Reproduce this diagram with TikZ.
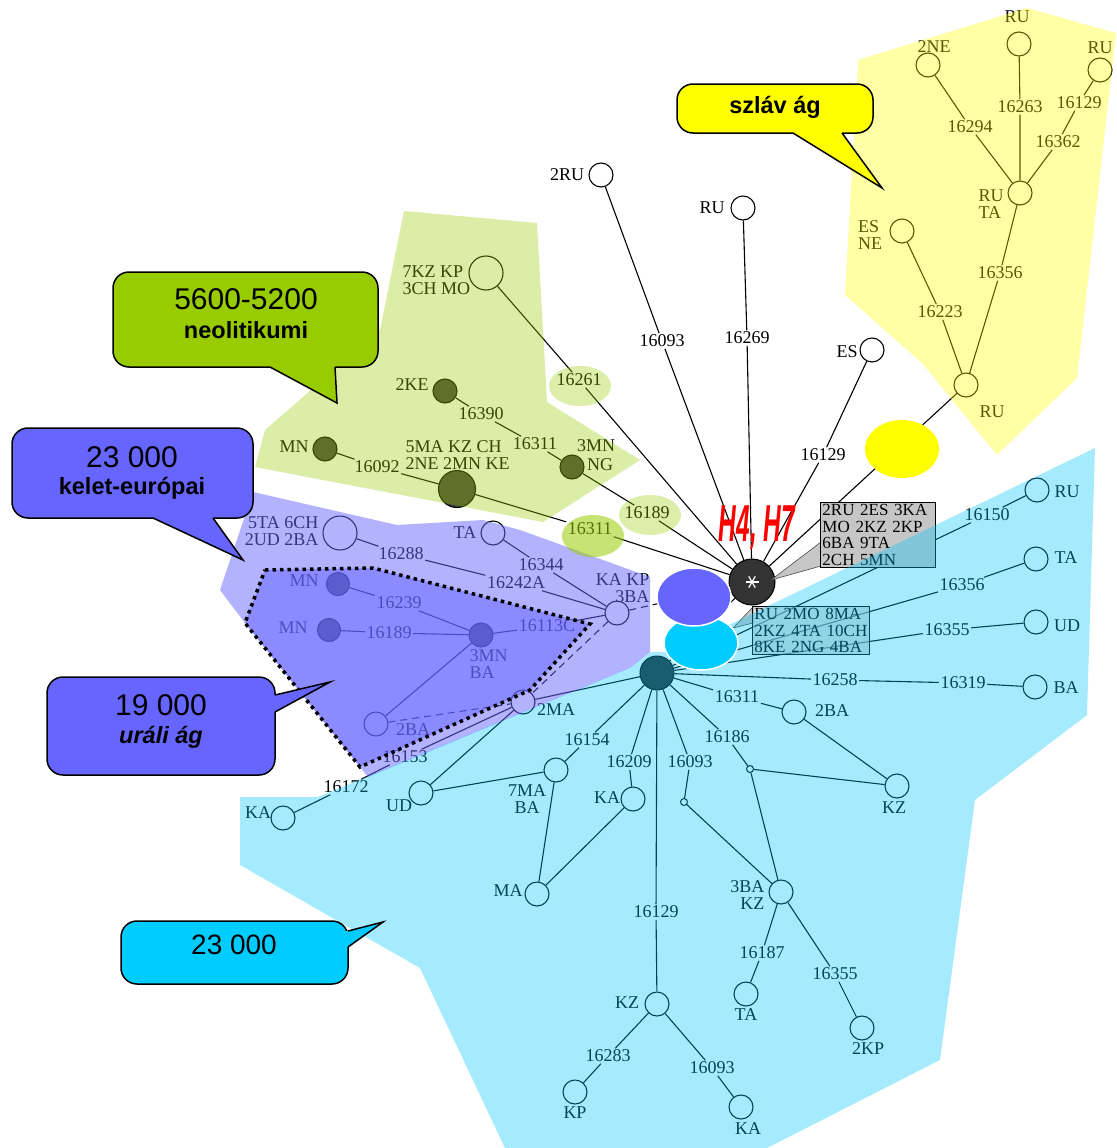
\documentclass[tikz,border=0pt]{standalone}
\usepackage{fontspec}
\setmainfont{Liberation Serif}
\newfontfamily\sansf{Liberation Sans}
\usetikzlibrary{calc}
\definecolor{cgreen}{HTML}{99CC00}
\definecolor{cblue}{HTML}{6666FF}
\definecolor{ccyan}{HTML}{00CCFF}
\definecolor{cyell}{HTML}{FFFF00}
\definecolor{ovcyan}{RGB}{0,200,251}
\definecolor{boxgray}{RGB}{198,198,198}
\newcommand\lblfont{\fontsize{18}{17}\selectfont}
\newcommand\boxfont{\fontsize{17}{16.5}\selectfont}
\tikzset{
 ln/.style={line width=1.1pt},
 dsh/.style={line width=1.1pt, dash pattern=on 7pt off 5pt},
 nd/.style={circle, draw, line width=1.1pt, minimum size=24pt, inner sep=0pt, fill=white},
 bignd/.style={nd, minimum size=34pt},
 dk/.style={nd, fill=black!75},
 smc/.style={circle, draw, line width=1pt, minimum size=7pt, inner sep=0pt, fill=white},
 lb/.style={font=\lblfont, inner sep=1.5pt},
 hubst/.style={circle, draw, line width=1pt, fill=black!80, minimum size=46pt, inner sep=0pt},
 cob/.style={draw=black, line width=1.5pt, rounded corners=16pt},
 cwl/.style={draw=black, line width=1.5pt, line join=miter},
 numf/.style={font=\sansf\fontsize{30}{30}\selectfont},
 wrdf/.style={font=\sansf\bfseries\fontsize{23.5}{24}\selectfont},
}
\begin{document}
\begin{tikzpicture}[x=1pt,y=-1pt]
\useasboundingbox (0,0) rectangle (1116,1148);
\fill[white] (0,0) rectangle (1116,1148);

% ---------- hubs
\node[hubst] (hub) at (752,582) {};
\foreach \a in {0,60,120}{\draw[white, line width=1.2pt] ($(hub)+(\a:6.5)$) -- ($(hub)+(\a+180:6.5)$);}
\node[circle, fill=black!85, draw, line width=1pt, minimum size=34pt, inner sep=0pt] (hub2) at (657,673) {};

% ---------- top (white area)
\node[nd] (c2RU) at (601,175) {};
\node[lb] (t2RU) at (567,175) {2RU};
\node[nd] (cRUa) at (743,208) {};
\node[lb] (tRUa) at (712,208) {RU};
\node[nd] (cES) at (872,350) {};
\node[lb] (tES) at (847,352) {ES};
\node[lb] (l16093a) at (662,341) {16093};
\node[lb] (l16269) at (747,338) {16269};
\node[lb] (l16129a) at (823,455) {16129};

% ---------- yellow branch
\node[nd] (cRUt) at (1019,44) {};
\node[lb] (tRUt) at (1017,17) {RU};
\node[nd] (c2NE) at (928,65) {};
\node[lb] (t2NE) at (934,47) {2NE};
\node[nd] (cRUr) at (1100,70) {};
\node[lb] (tRUr) at (1100,48) {RU};
\node[lb] (l16294) at (970,127) {16294};
\node[lb] (l16263) at (1020,107) {16263};
\node[lb] (l16129b) at (1079,103) {16129};
\node[lb] (l16362) at (1058,142) {16362};
\node[nd] (cRUTA) at (1020,193) {};
\node[lb, align=left] (tRUTA) at (991,204) {RU\\TA};
\node[nd] (cESNE) at (902,231) {};
\node[lb, align=left] (tESNE) at (870,235) {ES\\NE};
\node[lb] (l16356y) at (1000,273) {16356};
\node[lb] (l16223) at (940,312) {16223};
\node[nd] (cRUb) at (966,385) {};
\node[lb] (tRUb) at (992,412) {RU};

% ---------- green branch
\node[bignd] (c7KZ) at (486,273) {};
\node[lb, align=left, anchor=west] (t7KZ) at (401,280) {7KZ KP\\3CH MO};
\node[dk] (c2KE) at (445,391) {};
\node[lb] (t2KE) at (412,385) {2KE};
\node[lb] (l16390) at (481,414) {16390};
\node[lb] (l16311g) at (535,444) {16311};
\node[dk] (c3MNNG) at (572,467) {};
\node[lb] (t3MN) at (596,446) {3MN};
\node[lb] (tNG) at (600,465) {NG};
\node[dk] (cMNg) at (325,449) {};
\node[lb] (tMNg) at (294,447) {MN};
\node[lb] (l16092) at (377,467) {16092};
\node[dk, minimum size=37pt] (cBig) at (457,489) {};
\node[lb, align=left, anchor=west] (tBig) at (404,455) {5MA KZ CH\\2NE 2MN KE};
\node[lb] (l16261) at (579,380) {16261};
\node[lb] (l16189g) at (647,513) {16189};
\node[lb] (l16311e) at (590,529) {16311};

% ---------- purple branch
\node[bignd] (c5TA) at (340,533) {};
\node[lb, align=right, anchor=east] (t5TA) at (320,531) {5TA 6CH\\2UD 2BA};
\node[lb] (l16288) at (401,554) {16288};
\node[lb] (l16242A) at (516,583) {16242A};
\node[nd] (cKA) at (617,613) {};
\node[lb, align=right, anchor=east] (tKA) at (651,588) {KA KP\\3BA};
\node[nd] (cTA) at (493,533) {};
\node[lb] (tTA) at (465,533) {TA};
\node[lb] (l16344) at (541,565) {16344};
\node[dk, minimum size=23pt] (cMN1) at (338,584) {};
\node[lb] (tMN1) at (304,581) {MN};
\node[lb] (l16239) at (399,603) {16239};
\node[dk, minimum size=23pt] (cMN2) at (329,630) {};
\node[lb] (tMN2) at (293,628) {MN};
\node[lb] (l16189p) at (389,633) {16189};
\node[dk] (c3MNBA) at (481,635) {};
\node[lb, align=left, anchor=west] (t3MNBA) at (468,664) {3MN\\BA};
\node[lb] (l16113C) at (547,626) {16113C};
\node[nd] (c2BAp) at (376,724) {};
\node[lb] (t2BAp) at (413,730) {2BA};

% ---------- cyan branch
\node[nd] (c2MA) at (523,702) {};
\node[lb] (t2MA) at (556,710) {2MA};
\node[lb] (l16154) at (587,740) {16154};
\node[nd] (c7MA) at (556,770) {};
\node[lb, align=center] (t7MA) at (527,799) {7MA\\BA};
\node[nd] (cUD) at (421,793) {};
\node[lb] (tUD) at (399,806) {UD};
\node[lb] (l16153) at (405,757) {16153};
\node[lb] (l16172) at (346,787) {16172};
\node[nd] (cKAl) at (283,818) {};
\node[lb] (tKAl) at (258,813) {KA};
\node[nd] (cMA) at (537,894) {};
\node[lb] (tMA) at (508,891) {MA};
\node[lb] (l16209) at (629,762) {16209};
\node[nd] (cKAm) at (633,799) {};
\node[lb] (tKAm) at (607,798) {KA};
\node[lb] (l16093b) at (690,762) {16093};
\node[smc] (sm1) at (684,802) {};
\node[lb] (l16186) at (727,737) {16186};
\node[smc] (sm2) at (750,769) {};
\node[lb] (l16311c) at (737,697) {16311};
\node[nd] (c2BA) at (794,712) {};
\node[lb] (t2BA) at (832,711) {2BA};
\node[nd] (cKZr) at (897,786) {};
\node[lb] (tKZr) at (894,808) {KZ};
\node[nd] (c3BAKZ) at (781,892) {};
\node[lb, align=right, anchor=east] (t3BAKZ) at (766,895) {3BA\\KZ};
\node[lb] (l16187) at (762,953) {16187};
\node[nd] (cTAb) at (746,994) {};
\node[lb] (tTAb) at (746,1015) {TA};
\node[lb] (l16355b) at (835,974) {16355};
\node[nd] (c2KP) at (862,1028) {};
\node[lb] (t2KP) at (868,1049) {2KP};
\node[lb] (l16129c) at (656,912) {16129};
\node[nd] (cKZb) at (657,1004) {};
\node[lb] (tKZb) at (627,1003) {KZ};
\node[lb] (l16283) at (608,1056) {16283};
\node[nd] (cKP) at (575,1092) {};
\node[lb] (tKP) at (575,1113) {KP};
\node[lb] (l16093c) at (712,1068) {16093};
\node[nd] (cKAb) at (741,1107) {};
\node[lb] (tKAb) at (748,1129) {KA};
\node[lb] (l16258) at (835,680) {16258};
\node[lb] (l16319) at (963,683) {16319};
\node[nd] (cBA) at (1035,687) {};
\node[lb] (tBA) at (1066,688) {BA};
\node[lb] (l16355) at (947,630) {16355};
\node[nd] (cUD2) at (1036,622) {};
\node[lb] (tUD2) at (1067,626) {UD};
\node[lb] (l16356c) at (962,585) {16356};
\node[nd] (cTA2) at (1036,559) {};
\node[lb] (tTA2) at (1066,558) {TA};
\node[lb] (l16150) at (987,515) {16150};
\node[nd] (cRU2) at (1037,490) {};
\node[lb] (tRU2) at (1067,492) {RU};

% ---------- edges
\draw[ln] (c2RU) -- (l16093a) -- (hub);
\draw[ln] (cRUa) -- (l16269) -- (hub);
\draw[ln] (cES) -- (l16129a) -- (hub);
\draw[ln] (cRUb) -- (hub);
\draw[ln] (c2NE) -- (l16294) -- (cRUTA);
\draw[ln] (cRUt) -- (l16263) -- (cRUTA);
\draw[ln] (cRUr) -- (l16129b) -- (l16362) -- (cRUTA);
\draw[ln] (cRUTA) -- (l16356y) -- (cRUb);
\draw[ln] (cESNE) -- (l16223) -- (cRUb);
\draw[ln] (c7KZ) -- (l16261) -- (hub);
\draw[ln] (c2KE) -- (l16390) -- (l16311g) -- (c3MNNG) -- (l16189g) -- (hub);
\draw[ln] (cMNg) -- (l16092) -- (cBig) -- (l16311e) -- (hub);
\draw[ln] (c5TA) -- (l16288) -- (l16242A) -- (cKA);
\draw[ln] (cTA) -- (l16344) -- (cKA);
\draw[ln] (cMN1) -- (l16239) -- (c3MNBA);
\draw[ln] (cMN2) -- (l16189p) -- (c3MNBA);
\draw[ln] (c3MNBA) -- (l16113C) -- (cKA);
\draw[ln] (c2BAp) -- (c3MNBA);
\draw[dsh] (c2BAp) -- (c2MA);
\draw[dsh] (cKA) -- (c2MA);
\draw[dsh] (cKA) -- (hub);
\draw[ln] (hub2) -- (hub);
\draw[ln] (hub2) -- (c2MA);
\draw[ln] (c2MA) -- (cUD);
\draw[ln] (c2MA) -- (l16153) -- (l16172) -- (cKAl);
\draw[ln] (cUD) -- (c7MA);
\draw[ln] (c7MA) -- (cMA);
\draw[ln] (cMA) -- (cKAm);
\draw[ln] (hub2) -- (l16154) -- (c7MA);
\draw[ln] (hub2) -- (l16209) -- (cKAm);
\draw[ln] (hub2) -- (l16129c) -- (cKZb);
\draw[ln] (cKZb) -- (l16283) -- (cKP);
\draw[ln] (cKZb) -- (l16093c) -- (cKAb);
\draw[ln] (hub2) -- (l16093b) -- (sm1) -- (c3BAKZ);
\draw[ln] (hub2) -- (l16186) -- (sm2) -- (c3BAKZ);
\draw[ln] (sm2) -- (cKZr);
\draw[ln] (hub2) -- (l16311c) -- (c2BA) -- (cKZr);
\draw[ln] (c3BAKZ) -- (l16187) -- (cTAb);
\draw[ln] (c3BAKZ) -- (l16355b) -- (c2KP);
\draw[ln] (hub2) -- (l16258) -- (l16319) -- (cBA);
\draw[ln] (hub2) -- (l16355) -- (cUD2);
\draw[ln] (hub2) -- (l16356c) -- (cTA2);
\draw[ln] (hub2) -- (l16150) -- (cRU2);

% ---------- gray boxes
\filldraw[fill=boxgray, draw=black!70, line width=0.6pt] (771,580) -- (821,542) -- (821,566) -- cycle;
\node[draw, fill=boxgray, line width=0.9pt, inner sep=2pt, text width=111pt, align=left, anchor=north west, font=\boxfont] (box1) at (820,502) {2RU 2ES 3KA\\MO 2KZ 2KP\\6BA 9TA\\2CH 5MN};
\filldraw[fill=boxgray, draw=black!70, line width=0.6pt] (733,628) -- (753,607) -- (753,623) -- cycle;
\node[draw, fill=boxgray, fill opacity=0.6, text opacity=1, line width=0.9pt, inner sep=2pt, text width=113pt, align=left, anchor=north west, font=\boxfont] (box2) at (752,606) {RU 2MO 8MA\\2KZ 4TA 10CH\\8KE 2NG 4BA};

% ---------- coloured regions (transparent overlays)
\fill[cyell, opacity=0.35] (858,60) -- (1027,8) -- (1116,33) -- (1077,378) -- (997,455) -- (922,363) -- (845,295) -- cycle;
\fill[cgreen, opacity=0.35] (404,211) -- (537,223) -- (547,402) -- (640,460) -- (543,522) -- (255,467) -- (265,430) -- (380,330) -- cycle;
\fill[cblue, opacity=0.5] (253,492) -- (397,525) -- (483,520) -- (520,530) -- (650,577) -- (650,652) -- (630,668) -- (368,777) -- (360,767) -- (245,623) -- (220,590) -- cycle;
\fill[cblue, opacity=0.5] (265,570) -- (373,568) -- (590,624) -- (530,690) -- (360,767) -- (245,623) -- cycle;
\fill[ovcyan, opacity=0.35] (240,797) -- (318,797) -- (630,668) -- (650,652) -- (668,652) -- (733,623) -- (1095,448) -- (1087,715) -- (975,800) -- (940,1060) -- (767,1148) -- (505,1148) -- (420,968) -- (240,865) -- cycle;
\fill[cgreen, opacity=0.33] (580,386) ellipse [x radius=31, y radius=20];
\fill[cgreen, opacity=0.33] (650,515) ellipse [x radius=31, y radius=20];
\fill[cgreen, opacity=0.55] (593,536) ellipse [x radius=31, y radius=21];
\draw[black, line width=3.5pt, dash pattern=on 3.5pt off 4pt] (265,570) -- (373,568) -- (590,624) -- (530,690) -- (360,767) -- (245,623) -- cycle;

% ---------- solid ellipses
\filldraw[fill=ccyan, draw=white, line width=1.5pt] (701,643) ellipse [x radius=37, y radius=27];
\filldraw[fill=cblue, draw=white, line width=1.5pt] (694,597) ellipse [x radius=37, y radius=29];
\fill[cyell] (902,449) ellipse [x radius=37, y radius=29];

\node[text=red, font=\sansf\bfseries\itshape\fontsize{52}{52}\selectfont, inner sep=0pt] (h47) at (757,528) {\scalebox{0.47}[1]{H4, H7}};

% ---------- callouts
\filldraw[cob, fill=cgreen] (113,272) rectangle (378,367);
\fill[cgreen] (270,363) -- (270,367) -- (337,403) -- (335,367) -- (335,363) -- cycle;
\draw[cwl] (270,367) -- (337,403) -- (335,367);
\node[numf] (g1) at (246,299) {5600-5200};
\node[wrdf] (g2) at (246,330) {neolitikumi};

\filldraw[cob, fill=cblue] (12,428) rectangle (253,518);
\fill[cblue] (153,514) -- (153,518) -- (243,560) -- (213,518) -- (213,514) -- cycle;
\draw[cwl] (153,518) -- (243,560) -- (213,518);
\node[numf] (b1) at (132,457) {23 000};
\node[wrdf] (b2) at (132,488) {kelet-európai};

\filldraw[cob, fill=cblue] (47,677) rectangle (275,775);
\fill[cblue] (271,695) -- (275,695) -- (330,682) -- (275,712) -- (271,712) -- cycle;
\draw[cwl] (275,695) -- (330,682) -- (275,712);
\node[numf] (u1) at (161,705) {19 000};
\node[wrdf, font=\sansf\bfseries\itshape\fontsize{23.5}{24}\selectfont] (u2) at (161,737) {uráli ág};

\filldraw[cob, fill=ccyan] (121,921) rectangle (348,984);
\fill[ccyan] (344,931) -- (348,931) -- (383,922) -- (348,947) -- (344,947) -- cycle;
\draw[cwl] (348,931) -- (383,922) -- (348,947);
\node[numf, font=\sansf\fontsize{28}{28}\selectfont] (cy1) at (234,945) {23 000};

\filldraw[cob, fill=cyell] (677,84) rectangle (873,133);
\fill[cyell] (793,129) -- (793,133) -- (882,188) -- (842,133) -- (842,129) -- cycle;
\draw[cwl] (793,133) -- (882,188) -- (842,133);
\node[wrdf] (sz) at (775,107) {szláv ág};
\end{tikzpicture}
\end{document}
